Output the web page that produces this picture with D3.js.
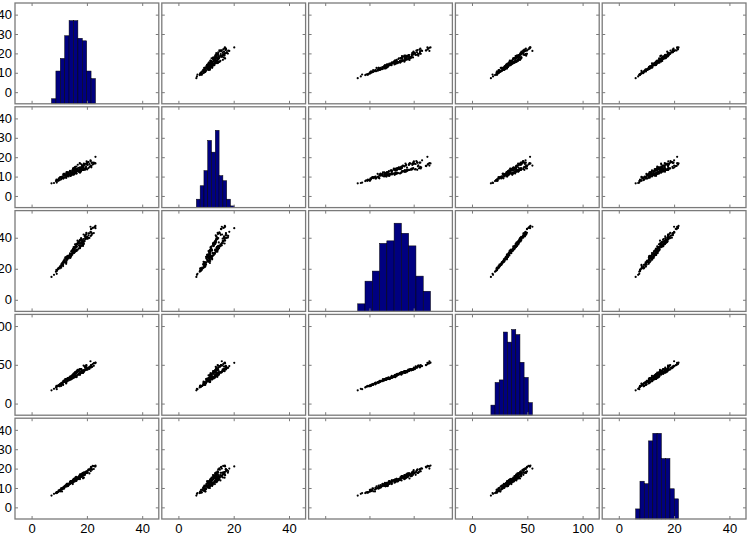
<!DOCTYPE html>
<html>
<head>
<meta charset="utf-8">
<script src="https://cdn.jsdelivr.net/npm/d3@7"></script>
<style>
  body { margin: 0; background: #fff; }
  text { font-family: "Liberation Sans", Arial, sans-serif; }
</style>
</head>
<body>
<svg id="chart" width="750" height="536"></svg>
<script>
// crab measurements (mm): blue males, blue females, orange males, orange females
const FL = [
  8.1, 8.8, 9.2, 9.6, 9.8, 10.8, 11.1, 11.6, 11.8, 11.8,
  12.2, 12.3, 12.6, 12.8, 12.8, 12.9, 13.1, 13.1, 13.3, 13.9,
  14.3, 14.6, 15.0, 15.0, 15.0, 15.2, 15.4, 15.7, 15.9, 16.1,
  16.1, 16.2, 16.3, 16.4, 16.6, 16.8, 16.9, 17.1, 17.1, 17.2,
  17.7, 17.9, 18.0, 18.8, 19.3, 19.3, 19.7, 19.8, 19.8, 21.3,
  7.2, 9.0, 9.1, 9.1, 9.5, 9.8, 10.1, 10.3, 10.4, 10.8,
  11.0, 11.2, 11.5, 11.6, 11.6, 11.7, 11.9, 12.0, 12.0, 12.6,
  12.8, 12.8, 12.8, 13.0, 13.1, 13.2, 13.4, 13.7, 13.9, 14.7,
  14.9, 15.0, 15.0, 15.1, 15.1, 15.1, 15.2, 15.3, 15.4, 15.5,
  15.6, 15.6, 15.7, 15.8, 16.2, 16.4, 16.7, 17.4, 17.5, 19.2,
  9.1, 10.2, 10.7, 11.4, 12.5, 12.5, 12.7, 13.2, 13.4, 13.7,
  14.0, 14.1, 14.1, 14.1, 14.2, 14.2, 14.2, 14.6, 14.7, 15.1,
  15.1, 15.4, 15.7, 16.2, 16.3, 17.1, 17.4, 17.5, 17.5, 17.8,
  17.9, 18.0, 18.2, 18.4, 18.6, 18.6, 18.8, 18.8, 19.4, 19.4,
  20.1, 20.6, 21.0, 21.5, 21.6, 21.6, 22.1, 22.5, 22.9, 23.1,
  10.7, 11.4, 12.5, 12.6, 12.9, 14.0, 14.0, 14.3, 14.7, 14.9,
  15.0, 15.6, 15.6, 15.6, 15.7, 16.1, 16.1, 16.2, 16.7, 17.1,
  17.5, 17.5, 17.5, 17.6, 18.0, 18.0, 18.3, 18.4, 18.4, 18.5,
  18.6, 18.8, 18.9, 19.1, 19.1, 19.7, 19.9, 19.9, 20.0, 20.1,
  20.3, 20.5, 20.6, 20.9, 21.3, 21.4, 21.7, 21.9, 22.5, 23.1
];
const RW = [
  6.7, 7.7, 7.8, 7.9, 8.0, 9.0, 9.9, 9.1, 9.6, 10.5,
  10.8, 11.0, 10.0, 10.2, 10.9, 11.0, 10.6, 10.9, 11.1, 11.1,
  11.6, 11.3, 10.9, 11.5, 11.9, 12.1, 11.8, 12.6, 11.8, 11.6,
  12.8, 13.3, 12.7, 13.0, 13.5, 12.8, 13.2, 12.6, 12.7, 13.5,
  13.6, 14.1, 13.7, 15.8, 13.5, 13.8, 15.3, 14.2, 14.3, 15.7,
  6.5, 8.5, 8.1, 8.2, 8.2, 8.9, 9.3, 9.5, 9.7, 9.5,
  9.8, 10.0, 11.0, 11.0, 11.4, 10.6, 11.4, 10.7, 11.1, 12.2,
  11.7, 12.2, 12.2, 11.4, 11.5, 12.2, 11.8, 12.5, 13.0, 12.5,
  13.2, 13.8, 14.2, 13.3, 13.5, 13.8, 14.3, 14.2, 13.3, 13.8,
  13.9, 14.7, 13.9, 15.0, 15.2, 14.0, 16.1, 16.9, 16.7, 16.5,
  6.9, 8.2, 8.6, 9.0, 9.4, 9.4, 10.4, 11.0, 10.1, 11.0,
  11.5, 10.4, 10.5, 10.7, 10.6, 10.7, 11.3, 11.3, 11.1, 11.4,
  11.5, 11.1, 12.2, 11.8, 11.6, 12.6, 12.8, 12.0, 12.7, 12.5,
  12.9, 13.4, 13.7, 13.4, 13.4, 13.5, 13.4, 13.8, 14.1, 14.4,
  13.7, 14.4, 15.0, 15.5, 15.4, 14.8, 16.2, 16.6, 16.9, 16.8,
  9.7, 9.2, 10.0, 11.5, 11.2, 11.9, 12.8, 12.2, 13.2, 13.0,
  12.3, 13.5, 14.0, 14.1, 13.6, 13.6, 13.7, 14.0, 14.3, 14.5,
  14.3, 14.4, 14.7, 14.0, 14.9, 16.3, 15.7, 15.5, 15.7, 14.6,
  14.5, 15.2, 16.7, 16.0, 16.3, 16.7, 16.6, 17.9, 16.7, 17.2,
  16.0, 17.5, 17.5, 16.5, 18.4, 18.0, 17.1, 17.2, 17.2, 20.2
];
const CL = [
  16.1, 18.1, 19.0, 20.1, 20.3, 23.0, 23.8, 24.5, 24.2, 25.2,
  27.3, 26.8, 27.7, 27.2, 27.4, 26.8, 28.2, 28.3, 27.8, 29.2,
  31.3, 31.9, 31.4, 32.4, 32.5, 32.3, 33.0, 35.8, 34.0, 33.8,
  34.9, 36.0, 35.6, 35.7, 38.1, 36.2, 37.3, 36.4, 36.7, 37.6,
  38.7, 39.7, 39.2, 42.1, 41.6, 40.9, 41.9, 43.2, 42.4, 47.1,
  14.7, 19.3, 18.5, 19.2, 19.6, 20.4, 20.9, 21.3, 21.7, 22.5,
  22.5, 22.8, 24.7, 24.6, 23.7, 24.9, 26.0, 24.6, 25.4, 26.1,
  27.1, 26.7, 27.9, 27.3, 27.6, 27.9, 28.4, 28.6, 30.0, 30.1,
  30.1, 31.7, 32.8, 31.8, 31.9, 31.7, 33.9, 32.6, 32.4, 33.4,
  32.8, 33.9, 33.6, 34.5, 34.5, 34.2, 36.6, 38.2, 38.6, 40.9,
  16.7, 20.2, 20.7, 22.7, 23.2, 24.2, 26.0, 27.1, 26.6, 27.5,
  29.2, 28.9, 29.1, 28.7, 28.7, 27.8, 29.2, 29.9, 29.0, 30.2,
  30.9, 30.2, 31.7, 32.3, 31.6, 35.0, 36.1, 34.4, 34.6, 36.0,
  36.9, 36.7, 38.8, 37.9, 37.8, 36.9, 37.2, 39.2, 39.1, 39.8,
  40.6, 42.8, 42.9, 45.5, 45.7, 43.4, 46.3, 46.6, 47.1, 47.6,
  21.4, 21.7, 24.1, 25.0, 25.8, 27.0, 28.8, 28.1, 29.6, 30.0,
  30.1, 31.2, 31.6, 31.0, 31.0, 31.6, 31.4, 31.6, 32.3, 33.1,
  34.5, 34.5, 33.3, 34.0, 34.7, 37.9, 35.1, 35.6, 36.5, 37.0,
  34.7, 35.8, 36.3, 37.8, 37.9, 39.9, 39.4, 40.1, 40.4, 39.8,
  39.4, 40.0, 41.5, 39.9, 43.8, 41.2, 41.7, 42.6, 43.0, 46.2
];
const CW = [
  19.0, 20.8, 22.4, 23.1, 23.0, 26.5, 27.1, 28.4, 27.8, 29.3,
  31.6, 31.5, 31.7, 31.8, 31.5, 30.9, 32.3, 32.4, 32.3, 33.3,
  35.5, 36.4, 36.4, 37.0, 37.2, 36.7, 37.5, 40.3, 38.9, 39.0,
  40.7, 41.7, 40.9, 41.8, 43.4, 41.8, 42.7, 42.0, 41.9, 43.9,
  44.5, 44.6, 44.4, 49.0, 47.4, 46.5, 48.5, 49.7, 48.9, 54.6,
  17.1, 22.7, 21.6, 22.2, 22.4, 23.9, 24.4, 24.7, 25.4, 26.3,
  25.7, 26.9, 29.2, 28.5, 27.7, 28.5, 30.1, 28.9, 29.2, 31.6,
  31.2, 31.1, 31.9, 31.8, 32.6, 32.1, 32.7, 33.8, 34.9, 34.7,
  35.6, 36.9, 37.4, 36.3, 37.0, 36.6, 38.5, 38.3, 37.6, 38.7,
  37.9, 39.5, 38.5, 40.3, 40.1, 39.8, 41.9, 44.1, 44.5, 47.9,
  18.6, 22.2, 22.7, 24.8, 26.0, 27.0, 28.8, 30.4, 29.6, 30.5,
  32.2, 31.8, 31.6, 31.9, 31.7, 30.9, 32.2, 33.5, 32.1, 33.3,
  34.0, 33.6, 34.2, 35.3, 34.2, 38.9, 39.5, 37.3, 38.4, 39.8,
  40.9, 41.3, 42.7, 42.2, 41.9, 40.2, 41.1, 43.3, 43.2, 44.3,
  44.5, 46.5, 47.2, 49.7, 49.7, 48.2, 51.0, 52.1, 51.9, 52.8,
  24.0, 24.1, 27.0, 28.1, 29.1, 31.4, 32.4, 31.8, 33.4, 33.7,
  33.3, 35.1, 35.3, 34.5, 34.8, 36.0, 36.1, 35.6, 37.0, 37.2,
  39.6, 39.0, 37.6, 38.6, 39.5, 43.0, 40.5, 40.0, 41.6, 42.0,
  39.4, 40.5, 41.7, 42.3, 42.6, 43.6, 43.9, 46.4, 45.1, 44.1,
  44.1, 45.5, 46.2, 44.7, 48.4, 46.2, 47.2, 47.4, 48.7, 52.5
];
const BD = [
  7.0, 7.4, 7.7, 8.2, 8.2, 9.8, 9.8, 10.4, 9.7, 10.3,
  10.9, 11.4, 11.4, 10.9, 11.0, 11.4, 11.0, 11.2, 11.3, 12.1,
  12.7, 13.7, 13.2, 13.4, 13.6, 13.6, 13.6, 14.5, 14.2, 14.4,
  15.7, 15.4, 14.9, 15.2, 14.9, 14.9, 15.6, 15.1, 15.6, 16.1,
  16.0, 16.8, 16.2, 17.8, 17.8, 16.8, 17.8, 18.6, 18.3, 20.0,
  6.1, 7.7, 7.7, 7.7, 7.8, 8.8, 8.4, 8.9, 8.3, 9.1,
  8.2, 9.4, 10.1, 10.4, 10.0, 10.4, 10.9, 10.5, 11.0, 11.2,
  11.9, 11.1, 11.5, 11.3, 11.1, 11.5, 11.7, 11.9, 13.1, 12.5,
  12.0, 14.0, 14.0, 13.5, 13.8, 13.0, 14.7, 13.8, 13.8, 14.7,
  13.4, 14.3, 14.1, 15.3, 13.9, 15.2, 15.4, 16.6, 17.0, 18.1,
  7.4, 9.0, 9.2, 10.1, 10.8, 11.2, 12.1, 12.2, 12.0, 12.2,
  13.1, 13.5, 13.1, 13.3, 12.9, 12.7, 13.5, 12.8, 13.1, 14.0,
  13.9, 13.5, 14.2, 14.7, 14.5, 15.7, 16.2, 15.3, 16.1, 16.7,
  16.5, 17.1, 17.2, 17.7, 17.3, 17.0, 17.5, 17.9, 17.8, 17.9,
  18.0, 19.6, 19.4, 20.9, 20.6, 20.1, 21.4, 21.3, 21.1, 21.6,
  9.8, 9.7, 10.9, 11.5, 11.9, 12.6, 12.7, 12.5, 12.9, 13.3,
  14.0, 14.1, 13.8, 13.8, 13.8, 14.0, 13.9, 13.7, 14.7, 14.6,
  15.6, 16.0, 14.6, 15.5, 15.7, 17.2, 16.1, 15.9, 16.4, 16.6,
  15.0, 16.6, 15.3, 16.8, 17.2, 18.2, 17.9, 17.9, 17.7, 18.6,
  18.0, 19.2, 19.2, 17.5, 20.0, 18.7, 19.6, 19.5, 19.8, 21.1
];

// histogram counts (10 bins per variable)
const histFL = [2, 13, 18, 27, 33, 33, 26, 25, 13, 10];
const histRW = [5, 13, 22, 40, 33, 46, 19, 16, 5, 1];
const histCL = [3, 12, 16, 27, 28, 35, 31, 26, 14, 8];
const histCW = [4, 13, 14, 33, 29, 34, 32, 21, 15, 5];
const histBD = [4, 15, 14, 31, 34, 34, 24, 24, 12, 8];
const histTop = [40, 60, 40, 40, 40];

// axis limits and ticks
const limits = [[-6, 46], [-6, 46], [-7.5, 57.5], [-15, 115], [-6, 46]];
const xTicks = [[0, 20, 40], [0, 20, 40], [0, 20, 40], [0, 50, 100], [0, 20, 40]];
const yTicks = [[0, 10, 20, 30, 40], [0, 10, 20, 30, 40], [0, 20, 40], [0, 50, 100], [0, 10, 20, 30, 40]];
const showXLabels = [true, true, false, true, true];

const vars = [FL, RW, CL, CW, BD];
const hists = [histFL, histRW, histCL, histCW, histBD];
const n = vars.length;

const svg = d3.select("#chart");

const panelX = d3.scaleBand().domain(d3.range(n)).range([15, 746]).paddingInner(0.0205);
const panelY = d3.scaleBand().domain(d3.range(n)).range([3, 519]).paddingInner(0.029);
const bw = panelX.bandwidth();
const bh = panelY.bandwidth();

const xs = limits.map((d) => d3.scaleLinear().domain(d).range([0, bw]));
const ys = limits.map((d) => d3.scaleLinear().domain(d).range([bh, 0]));

const frameColor = "#7a7a7a";

function styleTicks(g) {
  g.select(".domain").remove();
  g.selectAll(".tick line").attr("stroke", frameColor);
}

for (let i = 0; i < n; i++) {
  for (let j = 0; j < n; j++) {
    const cell = svg.append("g")
      .attr("transform", `translate(${panelX(j)},${panelY(i)})`);

    if (i === j) {
      // histogram on the diagonal
      const lo = d3.min(vars[i]);
      const hi = d3.max(vars[i]);
      const w = (hi - lo) / hists[i].length;
      const hy = d3.scaleLinear().domain([0, histTop[i]]).range([bh, 0]);
      cell.selectAll("rect.bar")
        .data(hists[i])
        .enter()
        .append("rect")
        .attr("class", "bar")
        .attr("x", (d, k) => xs[j](lo + k * w))
        .attr("width", (d, k) => xs[j](lo + (k + 1) * w) - xs[j](lo + k * w))
        .attr("y", (d) => hy(d))
        .attr("height", (d) => bh - hy(d))
        .attr("fill", "#000080")
        .attr("stroke", "#000000")
        .attr("stroke-width", 0.5);
    } else {
      // scatter: column variable on x, row variable on y
      cell.selectAll("circle")
        .data(d3.range(vars[j].length))
        .enter()
        .append("circle")
        .attr("cx", (k) => xs[j](vars[j][k]))
        .attr("cy", (k) => ys[i](vars[i][k]))
        .attr("r", 1.1)
        .attr("fill", "#000");
    }

    // frame
    cell.append("rect")
      .attr("width", bw)
      .attr("height", bh)
      .attr("fill", "none")
      .attr("stroke", frameColor)
      .attr("stroke-width", 1.3);

    // inward tick marks on all four sides
    cell.append("g")
      .call(d3.axisTop(xs[j]).tickValues(xTicks[j]).tickSize(-3).tickFormat(""))
      .call(styleTicks);
    cell.append("g")
      .attr("transform", `translate(0,${bh})`)
      .call(d3.axisBottom(xs[j]).tickValues(xTicks[j]).tickSize(-3).tickFormat(""))
      .call(styleTicks);
    cell.append("g")
      .call(d3.axisLeft(ys[i]).tickValues(yTicks[i]).tickSize(-3).tickFormat(""))
      .call(styleTicks);
    cell.append("g")
      .attr("transform", `translate(${bw},0)`)
      .call(d3.axisRight(ys[i]).tickValues(yTicks[i]).tickSize(-3).tickFormat(""))
      .call(styleTicks);

    // tick labels along the outer edges
    if (j === 0) {
      cell.append("g")
        .call(d3.axisLeft(ys[i]).tickValues(yTicks[i]).tickSize(0).tickPadding(3))
        .call((g) => g.select(".domain").remove())
        .selectAll("text")
        .attr("fill", "#000")
        .style("font-size", "13px");
    }
    if (i === n - 1 && showXLabels[j]) {
      cell.append("g")
        .attr("transform", `translate(0,${bh})`)
        .call(d3.axisBottom(xs[j]).tickValues(xTicks[j]).tickSize(0).tickPadding(5))
        .call((g) => g.select(".domain").remove())
        .selectAll("text")
        .attr("fill", "#000")
        .style("font-size", "13px");
    }
  }
}
</script>
</body>
</html>
